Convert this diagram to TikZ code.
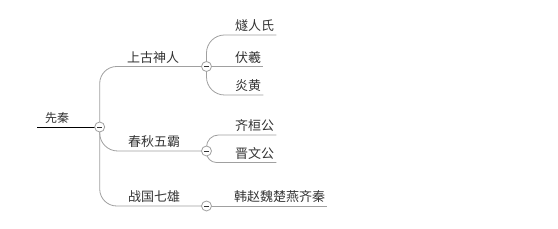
\documentclass[tikz,border=0pt]{standalone}
\usepackage{fontspec}
\newfontfamily\cjk{Noto Sans CJK SC}
\usetikzlibrary{backgrounds}
\definecolor{linegray}{HTML}{A0A0A0}
\definecolor{txt}{HTML}{333333}
\begin{document}
\begin{tikzpicture}[x=1pt,y=-1pt,
  lbl/.style={font=\cjk\fontsize{13}{13}\selectfont, text=txt, inner xsep=2pt, inner ysep=4pt, text depth=0pt, anchor=south west},
  rootlbl/.style={font=\cjk\fontsize{12}{12}\selectfont, text=txt, inner xsep=8pt, inner ysep=4pt, text depth=0pt, anchor=south west},
  collapse/.style={circle, draw=linegray, fill=white, line width=0.8pt, minimum size=10pt, inner sep=0pt,
    path picture={\draw[txt, line width=0.9pt] ([xshift=-2.6pt]path picture bounding box.center) -- ([xshift=2.6pt]path picture bounding box.center);}},
  conn/.style={draw=linegray, line width=0.8pt}]
\useasboundingbox (0,0) rectangle (558,229);

% root
\node[rootlbl] (root) at (37,127) {先秦};
\node[collapse] (c0) at (99.7,127) {};

% main branches
\node[lbl] (t1) at (125,66.5) {上古神人};
\node[collapse] (b1) at (206.5,66.5) {};
\node[lbl] (t2) at (126,151) {春秋五霸};
\node[collapse] (b2) at (206.5,151) {};
\node[lbl] (t3) at (126,206) {战国七雄};
\node[collapse] (b3) at (206.5,206) {};

% children
\node[lbl] (c1) at (233,35) {燧人氏};
\node[lbl] (c2) at (233,66.5) {伏羲};
\node[lbl] (c3) at (233,95) {炎黄};
\node[lbl] (d1) at (233,135) {齐桓公};
\node[lbl] (d2) at (233,162.5) {晋文公};
\node[lbl] (e1) at (232,206) {韩赵魏楚燕齐秦};

\begin{scope}[on background layer]
  \draw[black, line width=0.8pt] (root.south west) -- (c0.center);
  \draw[conn, rounded corners=17pt] (c0.center) |- (b1.center);
  \draw[conn, rounded corners=18pt] (c0.center) |- (b2.center);
  \draw[conn, rounded corners=17pt] (c0.center) |- (b3.center);
  \draw[conn, rounded corners=18pt] (b1.center) |- (c1.south east);
  \draw[conn] (b1.center) -- (c2.south east);
  \draw[conn, rounded corners=18pt] (b1.center) |- (c3.south east);
  \draw[conn, rounded corners=12pt] (b2.center) |- (d1.south east);
  \draw[conn, rounded corners=10pt] (b2.center) |- (d2.south east);
  \draw[conn] (b3.center) -- (e1.south east);
\end{scope}
\end{tikzpicture}
\end{document}
